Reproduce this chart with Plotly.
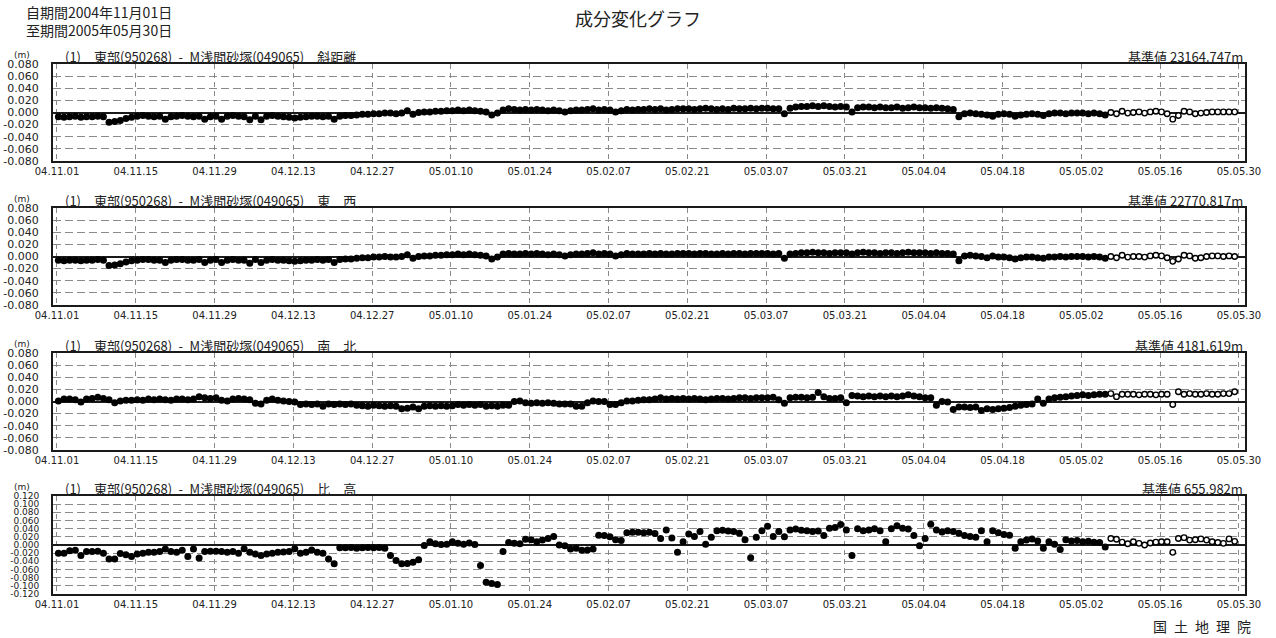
import pandas as pd
import plotly.graph_objects as go

# ---------------- data (metres, daily solutions 2004-11-01 .. 2005-05-29) ----------------
first_day = "2004-11-01 06:00"
n_final = 187          # first 187 days: final solutions (filled), rest: rapid (open)

slope_distance = [  # 斜距離
    -0.007, -0.008, -0.007, -0.006, -0.008, -0.007, -0.007, -0.006, -0.007, -0.016, -0.015, -0.013, -0.010, -0.008,
    -0.006, -0.005, -0.006, -0.007, -0.006, -0.011, -0.007, -0.006, -0.005, -0.006, -0.007, -0.006, -0.011, -0.007,
    -0.006, -0.011, -0.006, -0.005, -0.006, -0.007, -0.012, -0.006, -0.012, -0.006, -0.005, -0.006, -0.007, -0.008,
    -0.009, -0.008, -0.007, -0.006, -0.006, -0.007, -0.006, -0.011, -0.006, -0.005, -0.005, -0.004, -0.003, -0.003,
    -0.002, -0.002, -0.001, -0.001, -0.002, -0.001, 0.003, -0.003, 0.000, 0.001, 0.001, 0.002, 0.002, 0.003,
    0.003, 0.004, 0.003, 0.004, 0.003, 0.002, 0.001, -0.004, -0.001, 0.004, 0.006, 0.005, 0.004, 0.005,
    0.004, 0.005, 0.004, 0.003, 0.004, 0.003, 0.001, 0.003, 0.004, 0.004, 0.005, 0.006, 0.004, 0.005,
    0.004, 0.001, 0.003, 0.005, 0.004, 0.005, 0.005, 0.006, 0.005, 0.006, 0.004, 0.005, 0.006, 0.006,
    0.006, 0.005, 0.006, 0.007, 0.006, 0.005, 0.006, 0.005, 0.007, 0.006, 0.006, 0.007, 0.006, 0.007,
    0.007, 0.006, 0.006, -0.002, 0.007, 0.009, 0.010, 0.010, 0.011, 0.010, 0.011, 0.010, 0.009, 0.010,
    0.009, 0.001, 0.008, 0.009, 0.009, 0.008, 0.009, 0.008, 0.008, 0.009, 0.007, 0.008, 0.009, 0.008,
    0.008, 0.007, 0.008, 0.007, 0.006, 0.005, -0.007, -0.002, -0.001, -0.002, -0.003, -0.004, -0.006, -0.003,
    -0.002, -0.003, -0.006, -0.004, -0.003, -0.002, -0.003, -0.005, -0.002, -0.001, -0.001, -0.002, -0.001, -0.001,
    -0.001, -0.002, -0.001, -0.002, -0.004, 0.000, -0.002, 0.002, -0.001, 0.000, 0.001, -0.001, 0.001, 0.002,
    0.001, -0.002, -0.011, -0.005, 0.002, 0.001, -0.002, -0.001, 0.000, 0.001, 0.001, 0.001, 0.001, 0.001,
]

east_west = [  # 東西
    -0.006, -0.007, -0.006, -0.006, -0.007, -0.006, -0.006, -0.005, -0.006, -0.015, -0.014, -0.012, -0.009, -0.007,
    -0.006, -0.005, -0.005, -0.006, -0.006, -0.010, -0.006, -0.005, -0.005, -0.006, -0.006, -0.005, -0.010, -0.006,
    -0.005, -0.010, -0.006, -0.005, -0.006, -0.006, -0.011, -0.005, -0.010, -0.006, -0.005, -0.006, -0.006, -0.007,
    -0.008, -0.007, -0.006, -0.006, -0.005, -0.006, -0.005, -0.010, -0.005, -0.004, -0.004, -0.003, -0.002, -0.002,
    -0.001, -0.001, 0.000, -0.001, -0.001, 0.000, 0.003, -0.003, 0.000, 0.001, 0.001, 0.002, 0.002, 0.003,
    0.003, 0.004, 0.003, 0.004, 0.003, 0.002, 0.001, -0.004, -0.001, 0.004, 0.005, 0.004, 0.004, 0.005,
    0.004, 0.005, 0.004, 0.003, 0.004, 0.003, 0.001, 0.003, 0.004, 0.004, 0.005, 0.006, 0.004, 0.005,
    0.004, 0.001, 0.003, 0.005, 0.004, 0.004, 0.004, 0.005, 0.004, 0.005, 0.004, 0.004, 0.005, 0.005,
    0.005, 0.004, 0.005, 0.005, 0.004, 0.004, 0.005, 0.004, 0.005, 0.005, 0.004, 0.005, 0.005, 0.005,
    0.005, 0.004, 0.005, -0.003, 0.004, 0.005, 0.006, 0.006, 0.007, 0.006, 0.006, 0.005, 0.006, 0.006,
    0.006, 0.004, 0.006, 0.007, 0.006, 0.006, 0.005, 0.006, 0.006, 0.005, 0.006, 0.007, 0.006, 0.006,
    0.006, 0.005, 0.006, 0.005, 0.005, 0.004, -0.007, 0.001, 0.002, 0.001, 0.000, -0.002, 0.001, -0.001,
    -0.001, -0.002, -0.004, -0.002, -0.001, -0.001, -0.002, -0.003, -0.001, -0.001, 0.000, -0.001, 0.000, 0.000,
    0.000, -0.001, 0.000, -0.001, -0.003, 0.000, -0.002, 0.002, -0.001, 0.000, 0.000, -0.001, 0.001, 0.002,
    0.001, -0.002, -0.008, -0.004, 0.002, 0.001, -0.003, -0.002, 0.000, 0.001, 0.001, 0.000, 0.001, 0.000,
]

north_south = [  # 南北
    0.001, 0.004, 0.004, 0.003, -0.001, 0.004, 0.005, 0.007, 0.005, 0.003, -0.002, 0.001, 0.002, 0.002,
    0.003, 0.002, 0.004, 0.003, 0.004, 0.003, 0.002, 0.004, 0.004, 0.003, 0.004, 0.008, 0.006, 0.005,
    0.006, 0.002, 0.001, 0.004, 0.005, 0.004, 0.003, -0.003, -0.004, 0.002, 0.004, 0.002, 0.001, 0.000,
    -0.001, -0.005, -0.004, -0.005, -0.004, -0.008, -0.004, -0.005, -0.004, -0.005, -0.004, -0.006, -0.007, -0.008,
    -0.006, -0.007, -0.008, -0.007, -0.008, -0.012, -0.011, -0.009, -0.012, -0.008, -0.007, -0.008, -0.007, -0.008,
    -0.007, -0.005, -0.006, -0.005, -0.006, -0.005, -0.008, -0.007, -0.008, -0.006, -0.006, 0.000, 0.001, -0.002,
    -0.003, -0.002, -0.003, -0.002, -0.003, -0.004, -0.004, -0.004, -0.008, -0.008, -0.002, 0.001, 0.000, 0.000,
    -0.005, -0.005, -0.002, 0.001, 0.001, 0.002, 0.003, 0.003, 0.004, 0.006, 0.004, 0.005, 0.004, 0.005,
    0.004, 0.005, 0.004, 0.003, 0.004, 0.005, 0.005, 0.004, 0.005, 0.006, 0.006, 0.005, 0.006, 0.006,
    0.006, 0.007, 0.003, -0.003, 0.006, 0.007, 0.007, 0.006, 0.007, 0.015, 0.008, 0.005, 0.005, 0.006,
    -0.002, 0.010, 0.009, 0.008, 0.009, 0.008, 0.009, 0.008, 0.009, 0.008, 0.009, 0.011, 0.009, 0.008,
    0.006, 0.006, -0.006, 0.000, -0.001, -0.013, -0.009, -0.009, -0.010, -0.009, -0.015, -0.012, -0.013, -0.012,
    -0.011, -0.010, -0.008, -0.006, -0.005, -0.004, 0.004, -0.003, 0.004, 0.006, 0.007, 0.008, 0.009, 0.010,
    0.011, 0.010, 0.011, 0.012, 0.012, 0.013, 0.008, 0.012, 0.012, 0.012, 0.011, 0.012, 0.012, 0.011,
    0.012, 0.012, -0.005, 0.016, 0.012, 0.013, 0.012, 0.012, 0.013, 0.012, 0.012, 0.013, 0.013, 0.016,
]

height_diff = [  # 比高
    -0.020, -0.020, -0.014, -0.013, -0.026, -0.016, -0.016, -0.015, -0.020, -0.034, -0.034, -0.021, -0.024, -0.028,
    -0.022, -0.020, -0.018, -0.018, -0.016, -0.010, -0.016, -0.018, -0.013, -0.028, -0.010, -0.032, -0.016, -0.015,
    -0.015, -0.016, -0.018, -0.016, -0.020, -0.009, -0.018, -0.022, -0.026, -0.022, -0.020, -0.018, -0.017, -0.016,
    -0.009, -0.020, -0.018, -0.012, -0.018, -0.020, -0.034, -0.046, -0.007, -0.007, -0.006, -0.008, -0.007, -0.006,
    -0.007, -0.006, -0.008, -0.026, -0.038, -0.046, -0.045, -0.042, -0.036, -0.001, 0.008, 0.003, 0.001, 0.002,
    0.008, 0.004, 0.002, 0.005, 0.001, -0.050, -0.091, -0.094, -0.097, -0.016, 0.006, 0.004, 0.003, 0.014,
    0.013, 0.008, 0.012, 0.016, 0.021, 0.000, -0.002, -0.010, -0.008, -0.013, -0.012, -0.010, 0.024, 0.023,
    0.020, 0.013, 0.011, 0.030, 0.031, 0.031, 0.030, 0.031, 0.028, 0.016, 0.037, 0.017, -0.018, 0.008,
    0.027, 0.021, 0.033, 0.002, 0.019, 0.035, 0.036, 0.034, 0.033, 0.029, 0.013, -0.031, 0.019, 0.035,
    0.046, 0.021, 0.033, 0.020, 0.037, 0.039, 0.036, 0.035, 0.033, 0.034, 0.023, 0.041, 0.043, 0.050,
    0.037, -0.026, 0.040, 0.035, 0.037, 0.040, 0.035, 0.008, 0.040, 0.047, 0.041, 0.039, 0.023, -0.002,
    0.016, 0.051, 0.037, 0.032, 0.035, 0.033, 0.029, 0.023, 0.021, 0.019, 0.035, 0.008, 0.035, 0.030,
    0.026, 0.024, -0.008, 0.008, 0.012, 0.015, 0.010, -0.008, 0.008, 0.002, -0.011, 0.013, 0.010, 0.011,
    0.008, 0.009, 0.007, 0.006, -0.005, 0.016, 0.014, 0.007, 0.003, 0.008, 0.004, 0.000, 0.005, 0.007,
    0.008, 0.008, -0.018, 0.016, 0.018, 0.012, 0.013, 0.015, 0.012, 0.008, 0.006, 0.004, 0.015, 0.009,
]

series = [slope_distance, east_west, north_south, height_diff]
component_names = ["斜距離", "東\u3000西", "南\u3000北", "比\u3000高"]
pair_label = "(1)\u2003東部(950268)\u2002-\u2002M浅間砂塚(049065)\u2003"
base_values = ["基準値 23164.747m", "基準値 22770.817m", "基準値 4181.619m", "基準値 655.982m"]
y_limits = [0.08, 0.08, 0.08, 0.12]
tick_start, tick_end = "2004-11-01", "2005-05-30"
period_lines = ["自期間2004年11月01日", "至期間2005年05月30日"]
chart_title = "成分変化グラフ"
agency = "国\u2002土\u2002地\u2002理\u2002院"

# ---------------- layout helpers ----------------
W, H = 1276, 638
def px(x): return x / W
def py(y): return 1 - y / H

dates = pd.date_range(first_day, periods=len(slope_distance), freq="D")
tick_dates = pd.date_range(tick_start, tick_end, freq="14D")
tick_text = [d.strftime("%y.%m.%d") for d in tick_dates]
x_range = [pd.Timestamp(tick_start) - pd.Timedelta(hours=17),
           pd.Timestamp(tick_end) + pd.Timedelta(hours=26)]

tops = [64, 208, 353, 496]
heights = [97, 97, 97, 98]
x_left, x_right = 53, 1245

CJK = "Noto Sans CJK JP"
NUM = "DejaVu Sans"
TXT = "#222222"

fig = go.Figure()
annotations = []
layout = dict(
    width=W, height=H, margin=dict(l=0, r=0, t=0, b=0, autoexpand=False),
    paper_bgcolor="white", plot_bgcolor="white", showlegend=False,
)

for i, vals in enumerate(series):
    k = "" if i == 0 else str(i + 1)
    lim = y_limits[i]
    nstep = int(round(2 * lim / 0.02))
    yticks = [round(-lim + 0.02 * j, 3) for j in range(nstep + 1)]
    fig.add_trace(go.Scatter(
        x=dates[:n_final], y=vals[:n_final], mode="markers",
        marker=dict(symbol="circle", size=7, color="black"),
        xaxis="x" + k, yaxis="y" + k, hoverinfo="skip"))
    fig.add_trace(go.Scatter(
        x=dates[n_final:], y=vals[n_final:], mode="markers",
        marker=dict(symbol="circle", size=5.5, color="white",
                    line=dict(color="black", width=1.4)),
        xaxis="x" + k, yaxis="y" + k, hoverinfo="skip"))
    top, h = tops[i], heights[i]
    layout["xaxis" + k] = dict(
        domain=[px(x_left), px(x_right)], anchor="y" + k, type="date", range=x_range,
        tickmode="array", tickvals=tick_dates, ticktext=tick_text,
        showgrid=True, gridcolor="#8a8a8a", gridwidth=1, griddash="5px,4px",
        showline=True, mirror=True, linecolor="#1a1a1a", linewidth=2,
        ticks="", tickfont=dict(family=NUM, size=10, color=TXT),
        zeroline=False, fixedrange=True, automargin=False)
    layout["yaxis" + k] = dict(
        domain=[py(top + h), py(top)], anchor="x" + k, range=[-lim, lim],
        tickmode="array", tickvals=yticks, ticktext=[f"{v:.3f}" for v in yticks],
        showgrid=True, gridcolor="#8a8a8a", gridwidth=1, griddash="8px,4px",
        zeroline=True, zerolinecolor="#1a1a1a", zerolinewidth=2,
        showline=True, mirror=True, linecolor="#1a1a1a", linewidth=2,
        ticks="", ticklabelstandoff=10,
        tickfont=dict(family=NUM, size=11 if lim < 0.1 else 9, color=TXT),
        fixedrange=True, automargin=False)
    annotations += [
        dict(text="(m)", x=px(12), y=py(top - 9), xref="paper", yref="paper",
             xanchor="left", yanchor="middle", showarrow=False,
             font=dict(family=NUM, size=9, color=TXT)),
        dict(text=pair_label + component_names[i], x=px(63), y=py(top - 8),
             xref="paper", yref="paper", xanchor="left", yanchor="middle",
             showarrow=False, font=dict(family=CJK, size=13, color=TXT)),
        dict(text=base_values[i], x=px(x_right), y=py(top - 8),
             xref="paper", yref="paper", xanchor="right", yanchor="middle",
             showarrow=False, font=dict(family=CJK, size=13, color=TXT)),
    ]

annotations += [
    dict(text="<br>".join(period_lines), x=px(24), y=py(21.5), xref="paper", yref="paper",
         xanchor="left", yanchor="middle", align="left", showarrow=False,
         font=dict(family=CJK, size=14, color=TXT)),
    dict(text=chart_title, x=px(638), y=py(18), xref="paper", yref="paper",
         xanchor="center", yanchor="middle", showarrow=False,
         font=dict(family=CJK, size=18, color=TXT)),
    dict(text=agency, x=px(1253), y=py(626), xref="paper", yref="paper",
         xanchor="right", yanchor="middle", showarrow=False,
         font=dict(family=CJK, size=14, color=TXT)),
]
layout["annotations"] = annotations
fig.update_layout(**layout)
fig.write_html(
    "out.html",
    config={"displayModeBar": False},
    post_script="document.body.style.margin='0';document.body.style.overflow='hidden';",
)
